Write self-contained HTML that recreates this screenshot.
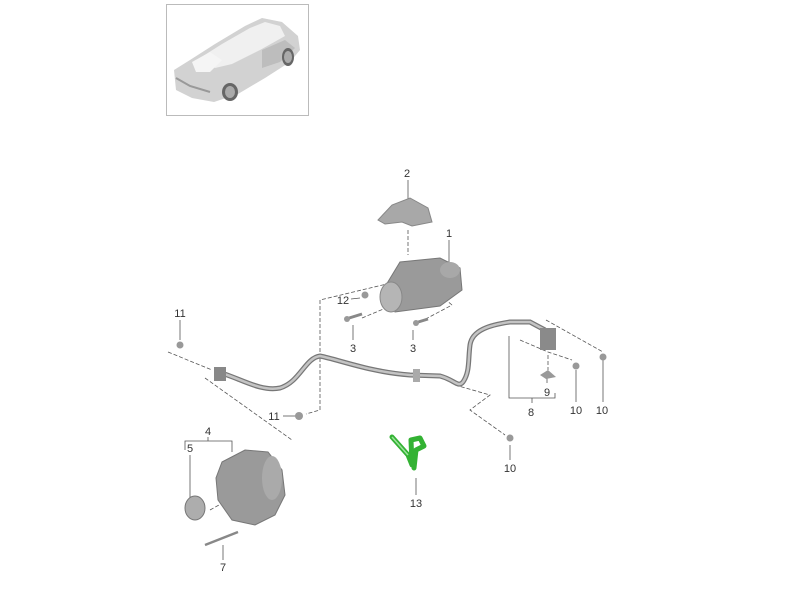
<!DOCTYPE html>
<html><head><style>
html,body{margin:0;padding:0;background:#fff;}
svg{display:block;}
text{font-family:"Liberation Sans",sans-serif;font-size:11px;fill:#333;text-anchor:middle;}
</style></head><body>
<svg width="800" height="600" viewBox="0 0 800 600">
<!-- thumbnail -->
<rect x="166.5" y="4.5" width="142" height="111" fill="#fff" stroke="#bbb"/>
<g>
<path d="M174 70 L190 60 L215 44 L245 26 L262 18 L282 22 L298 36 L300 50 L290 62 L265 78 L238 94 L214 102 L192 98 L176 90 Z" fill="#d2d2d2"/>
<path d="M200 58 L222 44 L250 28 L265 22 L280 26 L285 36 L260 50 L232 64 L215 68 Z" fill="#f0f0f0"/>
<path d="M192 62 L210 52 L222 60 L210 72 L196 72 Z" fill="#f5f5f5"/>
<path d="M262 50 L285 40 L295 48 L280 62 L262 68 Z" fill="#bdbdbd"/>
<ellipse cx="230" cy="92" rx="8" ry="9" fill="#666"/>
<ellipse cx="230" cy="92" rx="5" ry="6" fill="#aaa"/>
<ellipse cx="288" cy="57" rx="6" ry="9" fill="#666"/>
<ellipse cx="288" cy="57" rx="4" ry="6" fill="#aaa"/>
<path d="M176 78 L190 86 L210 92" stroke="#999" fill="none" stroke-width="2"/>
</g>
<!-- dashed lines -->
<g stroke="#555" stroke-width="0.8" fill="none" stroke-dasharray="4,2">
<path d="M408 230 L408 255"/>
<path d="M320 358 L320 300 L395 282"/>
<path d="M320 358 L320 410 L306 414"/>
<path d="M362 318 L405 300"/>
<path d="M420 322 L452 305"/>
<path d="M452 305 L440 295"/>
<path d="M168 352 L212 370"/>
<path d="M205 378 L292 440"/>
<path d="M455 385 L490 395 L470 410 L505 435"/>
<path d="M520 340 L548 352 L572 360"/>
<path d="M546 320 L603 352"/>
<path d="M548 355 L548 370"/>
<path d="M210 510 L228 500"/>
<path d="M250 522 L275 512"/>
</g>
<!-- leader lines -->
<g stroke="#555" stroke-width="0.8" fill="none">
<path d="M408 180 L408 200"/>
<path d="M449 240 L449 262"/>
<path d="M351 299 L360 298"/>
<path d="M353 325 L353 340"/>
<path d="M413 330 L413 340"/>
<path d="M180 320 L180 340"/>
<path d="M283 416 L296 416"/>
<path d="M185 450 L185 441 L232 441 L232 452 M208 441 L208 437"/>
<path d="M190 455 L190 500"/>
<path d="M223 545 L223 560"/>
<path d="M416 478 L416 495"/>
<path d="M510 445 L510 460"/>
<path d="M509 336 L509 398 L555 398 L555 393"/>
<path d="M532 398 L532 403"/>
<path d="M547 372 L547 383"/>
<path d="M576 370 L576 402"/>
<path d="M603 360 L603 402"/>
</g>
<!-- bracket 2 -->
<path d="M378 220 L392 205 L410 198 L428 208 L432 222 L412 226 L402 222 L385 224 Z" fill="#a8a8a8" stroke="#888"/>
<!-- starter 1 -->
<path d="M383 290 L400 262 L440 258 L460 268 L462 290 L440 306 L395 312 Z" fill="#9a9a9a" stroke="#777"/>
<ellipse cx="391" cy="297" rx="11" ry="15" fill="#b5b5b5" stroke="#888"/>
<ellipse cx="450" cy="270" rx="10" ry="8" fill="#a8a8a8"/>
<circle cx="365" cy="295" r="3.5" fill="#999"/>
<!-- bolts 3 -->
<path d="M346 319 L362 314" stroke="#888" stroke-width="3"/>
<circle cx="347" cy="319" r="3" fill="#999"/>
<path d="M415 323 L428 319" stroke="#888" stroke-width="3"/>
<circle cx="416" cy="323" r="3" fill="#999"/>
<!-- nuts 11 -->
<circle cx="180" cy="345" r="3.5" fill="#999"/>
<circle cx="299" cy="416" r="4" fill="#999"/>
<!-- cable -->
<path d="M218 372 C240 378 260 392 280 388 C300 382 305 358 320 356 C340 360 370 372 410 375 L440 376 C455 380 458 388 463 382 C470 372 468 360 470 345 C472 330 490 325 510 322 L530 322 L545 330" stroke="#777" stroke-width="5" fill="none"/>
<path d="M218 372 C240 378 260 392 280 388 C300 382 305 358 320 356 C340 360 370 372 410 375 L440 376 C455 380 458 388 463 382 C470 372 468 360 470 345 C472 330 490 325 510 322 L530 322 L545 330" stroke="#c4c4c4" stroke-width="2.5" fill="none"/>
<rect x="214" y="367" width="12" height="14" fill="#888"/>
<rect x="413" y="369" width="7" height="13" fill="#aaa"/>
<rect x="540" y="328" width="16" height="22" fill="#8a8a8a"/>
<path d="M540 375 L548 370 L556 377 L546 379 Z" fill="#999"/>
<circle cx="603" cy="357" r="3.5" fill="#999"/>
<circle cx="576" cy="366" r="3.5" fill="#999"/>
<circle cx="510" cy="438" r="3.5" fill="#999"/>
<!-- alternator -->
<path d="M222 462 L245 450 L268 452 L282 470 L285 495 L275 515 L255 525 L232 520 L218 500 L216 478 Z" fill="#9a9a9a" stroke="#777"/>
<ellipse cx="272" cy="478" rx="10" ry="22" fill="#aaa"/>
<ellipse cx="195" cy="508" rx="10" ry="12" fill="#adadad" stroke="#777"/>
<path d="M205 545 L238 532" stroke="#888" stroke-width="2.5"/>
<!-- green 13 -->
<path d="M392 437 L408 455 L412 465 L411 440 L420 438 L424 446 L416 450 L414 468" stroke="#33b233" stroke-width="5" fill="none" stroke-linejoin="round" stroke-linecap="round"/>
<path d="M392 437 L408 455" stroke="#9de29d" stroke-width="1.5"/>
<!-- labels -->
<text x="407" y="177">2</text>
<text x="449" y="237">1</text>
<text x="343" y="304">12</text>
<text x="353" y="352">3</text>
<text x="413" y="352">3</text>
<text x="180" y="317">11</text>
<text x="274" y="420">11</text>
<text x="208" y="435">4</text>
<text x="190" y="452">5</text>
<text x="223" y="571">7</text>
<text x="416" y="507">13</text>
<text x="510" y="472">10</text>
<text x="547" y="396">9</text>
<text x="531" y="416">8</text>
<text x="576" y="414">10</text>
<text x="602" y="414">10</text>
</svg>
</body></html>
